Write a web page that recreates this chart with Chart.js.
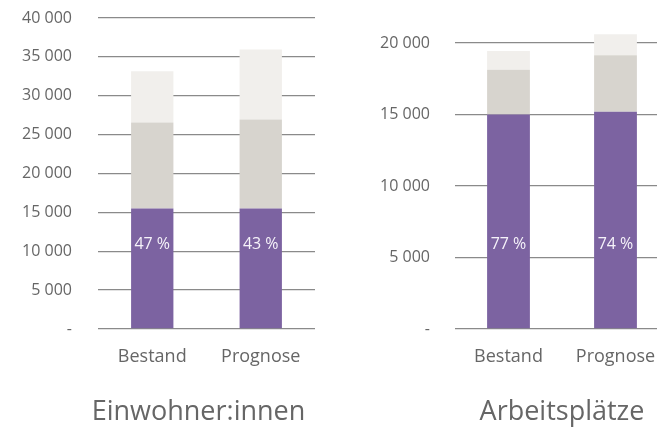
<!DOCTYPE html>
<html>
<head>
<meta charset="utf-8">
<script src="https://cdn.jsdelivr.net/npm/chart.js@4/dist/chart.umd.min.js"></script>
<style>
  html, body { margin: 0; padding: 0; background: #ffffff; overflow: hidden; width: 657px; height: 427px; }
  #left { position: absolute; left: 0; top: 0; width: 330px; height: 427px; }
  #right { position: absolute; left: 340px; top: 0; width: 340px; height: 427px; }
</style>
</head>
<body>
<div id="left"><canvas id="c1"></canvas></div>
<div id="right"><canvas id="c2"></canvas></div>
<script>
// ---- data ----
const categories = ['Bestand', 'Prognose'];

const einwohnerTitle = 'Einwohner:innen';
const einwohnerPurple = [15500, 15500];
const einwohnerGrey = [11050, 11450];
const einwohnerLight = [6600, 9000];
const einwohnerPct = ['47 %', '43 %'];
const einwohnerTicks = [0, 5000, 10000, 15000, 20000, 25000, 30000, 35000, 40000];

const arbeitTitle = 'Arbeitsplätze';
const arbeitPurple = [15000, 15200];
const arbeitGrey = [3130, 3940];
const arbeitLight = [1310, 1470];
const arbeitPct = ['77 %', '74 %'];
const arbeitTicks = [0, 5000, 10000, 15000, 20000];

// ---- styling ----
const PURPLE = '#7c63a1';
const GREY = '#d7d4ce';
const LIGHT = '#f1efec';
const TEXT = '#666666';
const GRID = '#8a8a8a';
const FONT = "'Open Sans', sans-serif";

function fmt(v) {
  if (v === 0) return '-';
  return String(v).replace(/\B(?=(\d{3})+(?!\d))/g, ' ');
}

const labelPlugin = {
  id: 'extraLabels',
  afterDatasetsDraw(chart, args, opts) {
    const ctx = chart.ctx;
    const meta = chart.getDatasetMeta(0);
    const area = chart.chartArea;
    ctx.save();
    ctx.textAlign = 'center';
    ctx.textBaseline = 'middle';
    ctx.font = "16px " + FONT;
    ctx.fillStyle = '#f6f3fa';
    meta.data.forEach((bar, i) => {
      ctx.fillText(opts.pct[i], bar.x, area.bottom - 85);
    });
    ctx.font = "27px " + FONT;
    ctx.fillStyle = TEXT;
    ctx.fillText(opts.title, (area.left + area.right) / 2 + opts.titleShift, area.bottom + 83);
    ctx.restore();
  }
};

function makeChart(id, cfg) {
  return new Chart(document.getElementById(id), {
    type: 'bar',
    data: {
      labels: categories,
      datasets: [
        { data: cfg.purple, backgroundColor: PURPLE },
        { data: cfg.grey, backgroundColor: GREY },
        { data: cfg.light, backgroundColor: LIGHT }
      ]
    },
    plugins: [labelPlugin],
    options: {
      responsive: true,
      maintainAspectRatio: false,
      animation: false,
      datasets: { bar: { barPercentage: cfg.barPct, categoryPercentage: 1, borderWidth: 0 } },
      layout: { padding: { top: cfg.padTop, right: cfg.padRight, left: 0, bottom: 0 } },
      plugins: {
        legend: { display: false },
        tooltip: { enabled: false },
        title: { display: false },
        extraLabels: { pct: cfg.pct, title: cfg.title, titleShift: cfg.titleShift }
      },
      scales: {
        x: {
          stacked: true,
          grid: { display: false, drawTicks: false },
          border: { display: false },
          ticks: { color: TEXT, font: { family: FONT, size: 18 }, padding: 17 },
          afterFit(scale) { scale.height = 427 - 329; }
        },
        y: {
          stacked: true,
          min: 0,
          max: cfg.max,
          grid: { color: GRID, lineWidth: 1.3, drawTicks: true, tickLength: cfg.tickPad, tickColor: 'rgba(0,0,0,0)' },
          border: { display: false },
          afterBuildTicks(scale) { scale.ticks = cfg.ticks.map(v => ({ value: v })); },
          ticks: {
            color: TEXT,
            font: { family: FONT, size: 16 },
            padding: 0,
            callback: (v) => fmt(v)
          },
          afterFit(scale) { scale.width = cfg.yWidth; }
        }
      }
    }
  });
}

makeChart('c1', {
  purple: einwohnerPurple, grey: einwohnerGrey, light: einwohnerLight,
  pct: einwohnerPct, ticks: einwohnerTicks, title: einwohnerTitle, titleShift: -8,
  max: 40000, padTop: 18, padRight: 15, yWidth: 98, tickPad: 26, barPct: 0.39
});

makeChart('c2', {
  purple: arbeitPurple, grey: arbeitGrey, light: arbeitLight,
  pct: arbeitPct, ticks: arbeitTicks, title: arbeitTitle, titleShift: 0,
  max: 21000, padTop: 28.7, padRight: 11, yWidth: 115, tickPad: 25, barPct: 0.4
});
</script>
</body>
</html>
